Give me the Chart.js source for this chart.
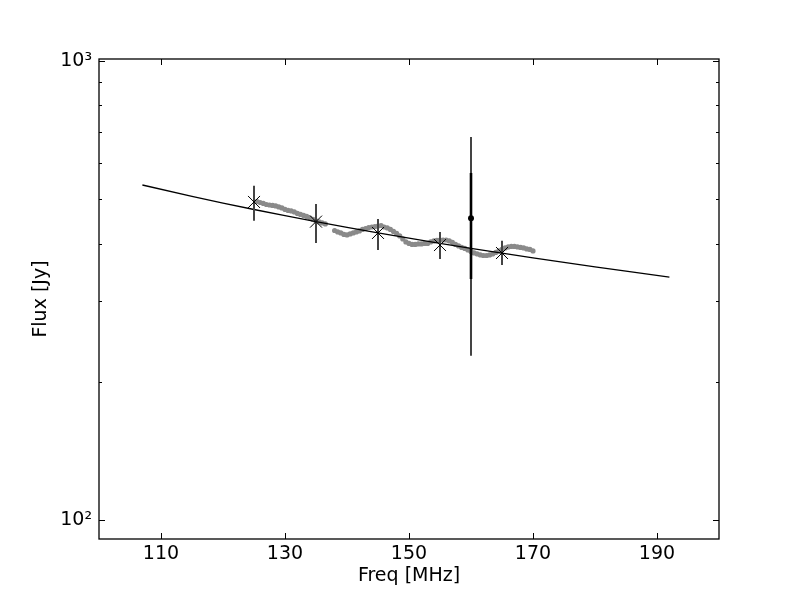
<!DOCTYPE html>
<html><head><meta charset="utf-8">
<script src="https://cdn.jsdelivr.net/npm/chart.js@4"></script>
<style>html,body{margin:0;padding:0;background:#fff}</style>
</head><body>
<canvas id="c" width="800" height="600"></canvas>
<script>
// ---- data ----
const xTicks = [110, 130, 150, 170, 190];
const yMajorTicks = [100, 1000];
const yMinorTicks = [200, 300, 400, 500, 600, 700, 800, 900];
const yTickLabels = {100: '10\u00B2', 1000: '10\u00B3'};

const trailFreq = [125.5,126,126.5,127,127.5,128,128.5,129,129.5,130,130.5,131,131.5,132,132.5,133,133.5,134,134.5,135,135.5,136,136.5,
  138,138.5,139,139.5,140,140.5,141,141.5,142,142.5,143,143.5,144,144.5,145,145.5,146,146.5,147,147.5,148,148.5,149,149.5,150,150.5,
  151,151.5,152,152.5,153,153.5,154,154.5,155,155.5,156,156.5,157,157.5,158,158.5,159,159.5,160,160.5,161,161.5,162,162.5,163,163.5,
  164,164.5,165,165.5,166,166.5,167,167.5,168,168.5,169,169.5,170];
const trailFlux = [494.2,491.7,489.3,486.8,485.6,484.4,483.2,480.8,478.4,474.8,472.5,471.3,468.9,465.4,463.1,460.8,458.5,455.1,451.7,448.3,446.1,443.8,441.6,
  427.3,424.1,422.0,418.9,417.9,420.0,422.0,424.1,426.3,429.5,431.6,433.7,434.8,435.9,437.0,438.1,434.8,432.7,429.5,425.2,421.0,415.8,409.5,403.4,400.4,398.4,
  398.4,399.4,399.4,400.4,400.4,403.4,405.4,406.4,407.4,407.4,407.4,405.4,402.4,398.4,395.4,392.5,390.5,387.5,384.6,381.7,379.8,377.9,376.9,376.9,377.9,379.8,
  382.7,385.6,388.5,391.5,393.5,394.5,394.5,393.5,392.5,391.5,389.5,388.5,385.6];

const fitFreq = [107,115,120,125,130,135,140,145,150,155,160,165,170,175,180,185,192];
const fitFlux = [536.8,507.1,490.3,474.7,460.3,446.7,434.1,422.2,411.1,400.6,390.6,381.3,372.3,364.0,356.0,348.3,338.2];

const markFreq = [125, 135, 145, 155, 165];
const markFlux = [493.0, 446.7, 422.0, 397.2, 381.6];
const markLow  = [448.8, 401.3, 387.4, 370.3, 359.4];
const markHigh = [535.0, 488.0, 452.7, 424.2, 405.9];

const spFreq = [160];
const spFlux = [454.3];
const spLowInner = [335.0];
const spHighInner = [570.2];
const spLowOuter = [227.8];
const spHighOuter = [683.0];

// ---- chart ----
Chart.defaults.font.family = 'DejaVu Sans';
Chart.defaults.font.size = 19;
Chart.defaults.color = '#000';

const framePlugin = {
  id: 'frame',
  afterDatasetsDraw(chart) {
    const {ctx, chartArea: a, scales: {x, y}} = chart;
    ctx.save();
    ctx.lineCap = 'butt';
    const bar = (f, lo, hi, col, w) => {
      const px = x.getPixelForValue(f);
      ctx.strokeStyle = col; ctx.lineWidth = w;
      ctx.beginPath();
      ctx.moveTo(px, y.getPixelForValue(lo));
      ctx.lineTo(px, y.getPixelForValue(hi));
      ctx.stroke();
    };
    markFreq.forEach((f, i) => bar(f, markLow[i], markHigh[i], '#444', 2));
    spFreq.forEach((f, i) => {
      bar(f, spLowOuter[i], spHighOuter[i], '#444', 2);
      bar(f, spLowInner[i], spHighInner[i], '#000', 2.6);
    });
    ctx.strokeStyle = '#000'; ctx.lineWidth = 1;
    markFreq.forEach((f, i) => {
      const px = x.getPixelForValue(f), py = y.getPixelForValue(markFlux[i]);
      const r = 6;
      ctx.beginPath();
      ctx.moveTo(px - r, py - r); ctx.lineTo(px + r, py + r);
      ctx.moveTo(px - r, py + r); ctx.lineTo(px + r, py - r);
      ctx.stroke();
    });
    ctx.fillStyle = '#000';
    spFreq.forEach((f, i) => {
      ctx.beginPath();
      ctx.arc(x.getPixelForValue(f), y.getPixelForValue(spFlux[i]), 3, 0, Math.PI * 2);
      ctx.fill();
    });
    ctx.restore();
  },
  afterDraw(chart) {
    const {ctx, chartArea: a, scales: {x, y}} = chart;
    ctx.save();
    ctx.strokeStyle = '#000'; ctx.lineWidth = 1;
    ctx.beginPath();
    xTicks.forEach(v => {
      const px = Math.round(x.getPixelForValue(v)) + 0.5;
      ctx.moveTo(px, a.bottom); ctx.lineTo(px, a.bottom - 6);
      ctx.moveTo(px, a.top); ctx.lineTo(px, a.top + 6);
    });
    yMajorTicks.forEach(v => {
      const py = Math.round(y.getPixelForValue(v)) + 0.5;
      ctx.moveTo(a.left, py); ctx.lineTo(a.left + 6, py);
      ctx.moveTo(a.right, py); ctx.lineTo(a.right - 6, py);
    });
    yMinorTicks.forEach(v => {
      const py = Math.round(y.getPixelForValue(v)) + 0.5;
      ctx.moveTo(a.left, py); ctx.lineTo(a.left + 3, py);
      ctx.moveTo(a.right, py); ctx.lineTo(a.right - 3, py);
    });
    ctx.stroke();
    ctx.lineWidth = 1.3;
    ctx.strokeRect(a.left, a.top, a.right - a.left, a.bottom - a.top);
    ctx.restore();
  }
};

new Chart(document.getElementById('c'), {
  type: 'scatter',
  data: {
    datasets: [
      {
        type: 'scatter',
        data: trailFreq.map((f, i) => ({x: f, y: trailFlux[i]})),
        pointRadius: 2.6, pointBorderWidth: 0,
        pointBackgroundColor: '#8a8a8a', pointBorderColor: '#8a8a8a',
        order: 3
      },
      {
        type: 'line',
        data: fitFreq.map((f, i) => ({x: f, y: fitFlux[i]})),
        borderColor: '#000', borderWidth: 1.3, pointRadius: 0, fill: false, tension: 0,
        order: 2
      }
    ]
  },
  options: {
    responsive: false,
    animation: false,
    layout: {padding: {left: 0, top: 59, right: 81, bottom: 0}},
    plugins: {legend: {display: false}, tooltip: {enabled: false}},
    scales: {
      x: {
        type: 'linear', min: 100, max: 200,
        grid: {display: false, drawTicks: false},
        border: {display: false},
        afterBuildTicks: s => { s.ticks = xTicks.map(v => ({value: v})); },
        afterFit: s => { s.height = 61; },
        ticks: {padding: 4, maxRotation: 0, autoSkip: false, callback: v => String(v)},
        title: {display: true, text: 'Freq [MHz]', padding: {top: 0, bottom: 13}}
      },
      y: {
        type: 'logarithmic', min: 90.9, max: 1010,
        grid: {display: false, drawTicks: false},
        border: {display: false},
        afterBuildTicks: s => { s.ticks = yMajorTicks.map(v => ({value: v})); },
        afterFit: s => { s.width = 99; },
        ticks: {padding: 7, autoSkip: false, callback: v => yTickLabels[v] || ''},
        title: {display: true, text: 'Flux [Jy]', padding: {top: 30, bottom: 0}}
      }
    }
  },
  plugins: [framePlugin]
});
</script>
</body></html>
